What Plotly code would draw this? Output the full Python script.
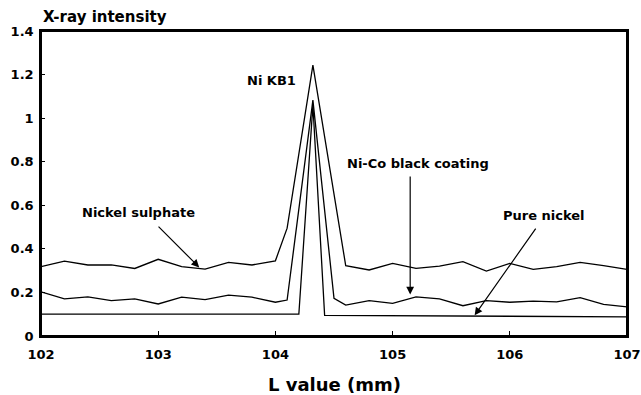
import plotly.graph_objects as go

# Data
sulphate_x = [102, 102.2, 102.4, 102.6, 102.8, 103.0, 103.2, 103.4, 103.6, 103.8, 104.0, 104.1, 104.32,
              104.6, 104.8, 105.0, 105.2, 105.4, 105.6, 105.8, 106.0, 106.2, 106.4, 106.6, 106.8, 107.0]
sulphate_y = [0.318, 0.344, 0.326, 0.326, 0.31, 0.352, 0.318, 0.307, 0.338, 0.326, 0.345, 0.495, 1.243,
              0.323, 0.303, 0.333, 0.31, 0.321, 0.341, 0.298, 0.333, 0.306, 0.318, 0.338, 0.323, 0.306]

coating_x = [102, 102.2, 102.4, 102.6, 102.8, 103.0, 103.2, 103.4, 103.6, 103.8, 104.0, 104.1, 104.32,
             104.5, 104.6, 104.8, 105.0, 105.2, 105.4, 105.6, 105.8, 106.0, 106.2, 106.4, 106.6, 106.8, 107.0]
coating_y = [0.203, 0.17, 0.18, 0.162, 0.17, 0.147, 0.178, 0.167, 0.188, 0.178, 0.155, 0.165, 1.083,
             0.173, 0.142, 0.162, 0.15, 0.18, 0.17, 0.139, 0.162, 0.155, 0.16, 0.157, 0.176, 0.145, 0.134]

nickel_x = [102, 104.2, 104.32, 104.42, 107]
nickel_y = [0.1, 0.1, 1.06, 0.095, 0.088]

x_ticks = [102, 103, 104, 105, 106, 107]
y_ticks = [0, 0.2, 0.4, 0.6, 0.8, 1, 1.2, 1.4]
y_tick_labels = ["0", "0.2", "0.4", "0.6", "0.8", "1", "1.2", "1.4"]

FONT = "DejaVu Sans"
line_style = dict(color="black", width=1.3)

fig = go.Figure()
fig.add_trace(go.Scatter(x=sulphate_x, y=sulphate_y, mode="lines", line=line_style, name="Nickel sulphate"))
fig.add_trace(go.Scatter(x=coating_x, y=coating_y, mode="lines", line=line_style, name="Ni-Co black coating"))
fig.add_trace(go.Scatter(x=nickel_x, y=nickel_y, mode="lines", line=line_style, name="Pure nickel"))

labels = [
    ("Ni KB1", 103.97, 1.174),
    ("Ni-Co black coating", 105.22, 0.794),
    ("Nickel sulphate", 102.83, 0.566),
    ("Pure nickel", 106.29, 0.555),
]
for txt, xx, yy in labels:
    fig.add_annotation(x=xx, y=yy, text=txt, showarrow=False,
                       font=dict(family=FONT, size=13, color="black", weight="bold"))

arrows = [
    # (tail_x, tail_y, head_x, head_y)
    (102.99, 0.509, 103.35, 0.315),
    (105.15, 0.739, 105.15, 0.19),
    (106.23, 0.50, 105.70, 0.095),
]
for tx, ty, hx, hy in arrows:
    fig.add_annotation(x=hx, y=hy, ax=tx, ay=ty, axref="x", ayref="y", xref="x", yref="y",
                       text="", showarrow=True, arrowhead=2, arrowsize=1.3, arrowwidth=1.2,
                       arrowcolor="black")

fig.add_annotation(x=0, y=1.047, xref="paper", yref="paper", xanchor="left", yanchor="middle",
                   text="X-ray intensity", showarrow=False,
                   font=dict(family=FONT, size=15, color="black", weight="bold"))
fig.add_annotation(x=0.5, y=-0.16, xref="paper", yref="paper", xanchor="center", yanchor="middle",
                   text="L value (mm)", showarrow=False,
                   font=dict(family=FONT, size=18, color="black", weight="bold"))

# plot frame
fig.add_shape(type="rect", xref="paper", yref="paper", x0=0, y0=0, x1=1, y1=1,
              line=dict(color="black", width=2), layer="above")

fig.update_layout(
    width=641, height=395,
    margin=dict(l=41, r=14, t=31, b=59, autoexpand=False),
    paper_bgcolor="white", plot_bgcolor="white",
    showlegend=False,
    font=dict(family=FONT, size=13, color="black", weight="bold"),
)
fig.update_xaxes(range=[102, 107], tickvals=x_ticks, ticktext=[str(v) for v in x_ticks],
                 automargin=False, ticklabeloverflow="allow",
                 showgrid=False, zeroline=False, showline=True, linecolor="black", linewidth=1.5,
                 mirror=True, ticks="inside", ticklen=5, tickcolor="black", tickwidth=1.2,
                 ticklabelstandoff=6,
                 tickfont=dict(family=FONT, size=13, color="black", weight="bold"))
fig.update_yaxes(range=[0, 1.4], tickvals=y_ticks, ticktext=y_tick_labels,
                 automargin=False, ticklabeloverflow="allow",
                 showgrid=False, zeroline=False, showline=True, linecolor="black", linewidth=1.5,
                 mirror=True, ticks="inside", ticklen=4, tickcolor="black", tickwidth=1.2,
                 ticklabelstandoff=3,
                 tickfont=dict(family=FONT, size=13, color="black", weight="bold"))

fig.write_html("out.html", config={"displayModeBar": False},
               post_script="document.body.style.margin='0';document.body.style.overflow='hidden';")
